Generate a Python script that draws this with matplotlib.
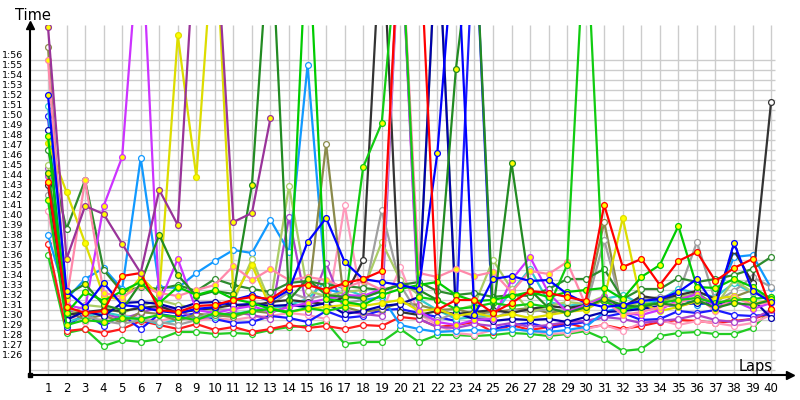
import matplotlib
matplotlib.use('Agg')
import matplotlib.pyplot as plt
import numpy as np

# lap times in seconds (90 = 1:30); 130 = off the top of the chart, None = retired
laps = list(range(1, 41))
OFF = 130

red_y = [103.3, 90.8, 90.2, 90.4, 93.9, 94.2, 90.5, 90.3, 90.9, 91.0, 91.5, 91.8, 91.6, 92.8, 93.0, 92.5, 93.2, 93.6, 94.4, OFF,
         OFF, 90.5, 91.5, 91.5, 90.2, 91.2, 92.4, 92.2, 91.8, 91.4, 101.0, 94.8, 95.6, 93.0, 95.4, 96.3, 93.4, 94.7, 95.6, 90.6]
red_o = [97.1, 88.4, 88.6, 88.2, 88.6, 89.4, 89.0, 88.6, 89.1, 88.5, 88.8, 88.3, 88.6, 89.0, 88.7, 88.9, 88.6, 89.0, 88.9, 89.8,
         89.6, 88.8, 89.0, 89.3, 88.3, 89.0, 88.5, 88.8, 89.2, 88.7, 89.0, 88.6, 88.9, 89.3, 89.5, 89.4, 89.2, 89.4, 89.6, 90.2]
green_low = [96.0, 88.2, 88.6, 86.9, 87.5, 87.3, 87.6, 88.3, 88.3, 88.1, 88.2, 88.1, 88.5, 88.8, 88.9, 89.3, 87.1, 87.3, 87.3, 88.6,
             87.3, 88.0, 88.0, 87.9, 88.0, 88.2, 88.1, 87.9, 88.1, 88.4, 87.6, 86.4, 86.6, 87.9, 88.2, 88.3, 88.1, 88.1, 88.7, 90.5]
green_a = [107.9, 90.2, 92.3, 91.4, 92.4, 93.3, 91.2, 92.8, 92.0, 92.5, 91.6, 91.2, 90.6, 90.2, OFF, 91.6, 91.3, 91.0, 92.0, 92.6,
           93.0, 93.3, 92.0, 91.4, 91.5, 91.9, 92.3, 91.8, 92.3, 92.5, 92.7, 91.6, 93.8, 95.0, 98.9, 92.8, 92.7, 93.6, 92.8, 91.6]
green_b = [101.5, 89.0, 89.5, 89.3, 89.7, 89.6, 90.0, 89.8, 89.5, 90.2, 90.0, 90.4, 90.6, 90.3, 90.7, 90.4, 90.8, 104.8, 109.2, OFF,
           91.8, 91.5, 90.6, 90.8, 91.2, 90.9, 91.1, 90.8, 95.0, OFF, 91.4, 90.5, 91.0, 91.2, 91.5, 91.7, 91.2, 91.5, 91.6, 91.8]
dkgreen_y = [104.2, 92.0, 93.1, 91.0, 90.5, 93.2, 98.0, 94.0, 91.9, 92.4, 92.1, 103.0, OFF, 91.5, 93.6, 92.0, 91.8, 91.7, 92.4, 93.0,
             92.5, 91.5, 114.6, OFF, 90.2, 105.2, 92.5, 90.7, 90.2, 90.8, 91.6, 91.0, 90.8, 91.2, 90.9, 91.5, 90.7, 91.2, 91.0, 91.5]
dkgreen_o = [106.5, 98.6, 103.5, 94.5, 92.3, 92.8, 92.6, 93.0, 92.4, 93.6, 93.0, 92.6, 92.3, 93.2, 93.4, 93.0, 92.9, 92.7, 92.5, 93.0,
             93.3, 92.4, 92.0, 92.2, 91.8, 92.0, 91.9, 92.6, 93.6, 93.6, 94.6, 91.6, 92.6, 92.6, 93.7, 93.3, 93.6, 94.0, 94.6, 95.8]
blue_y = [112.0, 92.4, 90.8, 93.2, 91.0, 90.8, 90.4, 90.2, 90.6, 90.8, 91.5, 92.0, 91.4, 92.5, 97.3, 99.7, 95.3, 93.6, 93.3, 93.0,
          92.6, 106.2, OFF, 90.0, 93.6, 93.9, 93.4, 93.5, 92.1, 91.2, 90.8, 91.0, 91.4, 91.6, 92.3, 93.6, 90.8, 97.2, 92.4, 91.3]
blue_o = [109.9, 88.8, 90.2, 88.9, 90.0, 88.6, 90.1, 89.8, 90.2, 89.6, 89.2, 89.3, 89.9, 89.7, 89.3, 90.4, 89.7, 89.9, 90.5, 90.6,
          90.2, 89.8, 89.4, OFF, 88.6, 89.0, 89.2, 88.7, 89.0, 89.3, 89.8, 90.2, 89.5, 89.6, 90.4, 90.2, 90.5, 90.0, 89.9, 90.1]
navy_o = [108.5, 89.5, 90.4, 89.9, 91.2, 91.3, 91.1, 90.6, 91.2, 91.3, 91.0, 91.1, 90.9, 91.0, 90.8, 91.2, 90.1, 90.4, 90.9, 91.1,
          91.8, OFF, 90.2, 89.6, 89.4, 89.6, 89.5, 89.6, 89.3, 89.8, 90.3, 90.4, 90.6, 90.9, 91.0, 91.2, 91.1, 91.5, 91.6, 89.7]
ltblue = [98.0, 91.6, 93.6, 94.7, 92.6, 105.7, 92.8, 92.7, 94.2, 95.4, 96.5, 96.2, 99.5, 96.3, 115.0, 92.6, 92.1, 91.5, 91.8, 89.0,
          88.6, 88.3, 88.4, 88.5, 88.4, 88.6, 88.4, 88.3, 88.5, 88.8, 90.3, 90.8, 90.6, 91.6, 91.8, 91.0, 91.4, 95.8, 96.0, 92.7]
cyan = [110.9, 89.3, 89.8, 90.3, 89.9, 89.6, 89.1, 89.5, 90.0, 89.8, 90.1, 90.4, 90.6, 91.0, 91.6, 93.4, 92.6, 91.9, 92.3, OFF,
        91.6, 90.5, 89.6, 89.8, 90.0, 92.4, 94.6, 91.3, 90.9, 91.2, 91.6, 92.0, 91.1, 91.5, 92.6, 92.2, 91.8, 93.2, 92.2, 91.8]
magenta = [103.9, 91.0, 90.6, 100.9, 105.8, OFF, 91.2, 95.6, 90.5, 90.2, 90.6, 90.9, 90.3, 90.8, 91.2, 91.6, 92.0, 91.9, 92.6, OFF,
           90.4, 89.3, 89.0, 89.5, 89.6, 93.5, 95.8, 92.2, 90.3, 91.0, 91.8, 90.2, 90.0, 90.5, 91.5, 92.1, 90.8, 91.4, 90.6, 91.2]
purple_y = [118.8, 95.6, 100.9, 100.1, 97.1, 94.2, 102.5, 99.0, OFF, OFF, 99.3, 100.2, 109.7] + [None] * 27
purple_o = [104.7, 90.5, 90.0, 90.2, 89.6, 90.2, 90.8, 90.5, 89.6, 89.9, 90.3, 90.0, 89.6, 99.8, 90.3, 95.2, 90.4, 90.1, 89.9, OFF,
            89.6, 88.8, 88.7, 89.1, 88.9, 89.2, 88.8, 89.0, 89.3, 89.4, 89.8, 89.6, 89.2, 89.4, 89.6, 90.0, 89.5, 89.3, 89.6, 90.5]
pink_y = [115.5, 91.5, 103.5, 92.2, 91.8, 92.9, 92.2, 91.9, 92.5, 93.0, 94.9, 93.5, 94.6, 93.5, 93.8, 93.5, 92.7, 93.4, 92.5, OFF,
          94.2, 93.8, 94.6, 93.9, 94.3, 92.3, 94.4, 94.1, 95.3, 91.0, 91.5, 90.0, 90.3, 90.8, 91.2, 91.8, 90.4, 91.8, 91.0, 91.3]
pink_o = [100.4, 90.0, 89.3, 89.6, 90.0, 89.7, 89.4, 89.8, 89.4, 89.7, 89.5, 89.8, 89.9, 90.2, 90.0, 89.6, 101.0, 90.6, 90.2, 94.8,
          90.1, 89.0, 88.2, 88.0, 88.5, 88.6, 88.4, 88.1, 88.2, 88.6, 89.0, 88.4, 89.2, 89.5, 89.0, 89.4, 89.2, 88.9, 89.2, 90.0]
yellow = [107.2, 102.3, 97.2, 91.9, 91.5, 93.8, 92.0, 118.0, 103.8, OFF, 91.8, 95.0, 90.7, 90.3, 90.6, 90.8, 91.0, 90.9, 91.2, 91.5,
          90.4, 90.6, 89.9, 90.2, 89.8, 90.1, 89.7, 90.0, 90.3, 90.5, 91.6, 99.7, 91.2, 90.4, 90.8, 91.4, 91.6, 91.9, 91.1, 91.5]
olive = [116.8, 90.3, 89.6, 90.0, 89.2, 90.3, 90.1, 89.4, 90.1, 90.0, 89.8, 90.4, 90.2, 90.9, 91.0, 107.1, 90.8, 90.3, 90.6, 91.2,
         91.0, 90.5, 90.6, 90.1, 90.3, 90.5, 90.7, 90.2, 90.5, 91.0, 99.3, 90.2, 91.8, 91.5, 91.6, 92.2, 91.0, 91.8, 92.5, 91.3]
grey = [102.0, 90.8, 89.9, 89.4, 89.1, 89.5, 89.3, 89.0, 89.5, 90.6, 90.5, 91.3, 91.0, 92.3, 91.6, 92.0, 91.2, 91.5, 100.5, 93.0,
        90.0, 89.5, 90.2, 89.8, 89.6, 90.5, 90.3, 90.6, 90.4, 90.6, 97.5, 90.5, 91.6, 91.8, 92.1, 97.3, 91.3, 92.4, 93.8, 92.8]
black = [103.0, 90.0, 90.3, 90.5, 90.4, 90.7, 90.9, 90.2, 90.5, 90.7, 91.0, 90.9, 91.3, 91.5, 91.3, 91.1, 91.8, 95.5, OFF, 90.3,
         90.0, 90.4, 90.1, 90.3, 90.5, 90.2, 90.6, 90.9, 90.7, 91.0, 91.4, 90.8, 91.9, 91.6, 92.0, 92.4, 91.6, 96.5, 93.2, 111.3]
ltgreen = [105.0, 89.8, 91.0, 90.8, 90.2, 90.9, 91.5, 91.0, 90.7, 90.5, 91.3, 95.6, 91.2, 102.9, 92.4, 91.9, 92.3, 92.5, 97.3, 93.5,
           92.0, OFF, 90.5, 91.0, 95.5, 92.6, 90.3, 90.9, 91.3, 91.1, 91.9, 90.7, 91.3, 91.0, 91.9, 92.0, 90.9, 93.5, 92.3, 91.6]

# (values, line colour, marker face)
series = [
    (green_low, '#22cc22', 'white'),
    (red_o, '#ff1a1a', 'white'),
    (pink_o, '#ff99bb', 'white'),
    (blue_o, '#1a1aff', 'white'),
    (purple_o, '#aa44cc', 'white'),
    (cyan, '#33cccc', 'white'),
    (ltblue, '#1199ff', 'white'),
    (olive, '#8a8a4a', 'white'),
    (grey, '#a0a0a0', 'white'),
    (ltgreen, '#aacc66', 'white'),
    (black, '#333333', 'white'),
    (navy_o, '#0000aa', 'white'),
    (dkgreen_o, '#2e8b2e', 'white'),
    (yellow, '#dddd00', 'yellow'),
    (magenta, '#cc33ff', 'yellow'),
    (pink_y, '#ff88aa', 'yellow'),
    (green_b, '#11cc11', 'yellow'),
    (dkgreen_y, '#228b22', 'yellow'),
    (green_a, '#00cc00', 'yellow'),
    (blue_y, '#0000ff', 'yellow'),
    (red_y, '#ff0000', 'yellow'),
    (purple_y, '#993399', 'yellow'),
]

ytick_vals = list(range(86, 117))
ytick_labels = ['%d:%02d' % (v // 60, v % 60) for v in ytick_vals]

fig = plt.figure(figsize=(8, 4), dpi=100)
ax = fig.add_axes([30 / 800, 25 / 400, 760 / 800, 350 / 400])
ax.set_xlim(0.029, 41.02)
ax.set_ylim(84, 119)

# grid
ax.hlines(np.arange(84.5, 116, 1), 0.029, 40.21, color='#cccccc', lw=1, zorder=0)
ax.vlines(laps, 84, 119, color='#cccccc', lw=1, zorder=0)

for vals, col, face in series:
    y = np.array([np.nan if v is None else v for v in vals], dtype=float)
    ax.plot(laps, y, color=col, lw=1.6, marker='o', ms=4.2, mfc=face, mec=col, mew=0.9, zorder=2)

ax.set_xticks(laps)
ax.set_xticklabels([str(l) for l in laps], fontsize=8.5)
ax.set_yticks(ytick_vals)
ax.set_yticklabels(ytick_labels, fontsize=6.8)
ax.tick_params(axis='both', length=0)
ax.tick_params(axis='x', pad=5)
ax.tick_params(axis='y', pad=5)

for s in ['top', 'right']:
    ax.spines[s].set_visible(False)
for s in ['left', 'bottom']:
    ax.spines[s].set_linewidth(1.5)
    ax.spines[s].set_zorder(5)

# axis arrows and origin square
ax.plot([0], [1.0], marker='^', ms=6, color='black', transform=ax.transAxes, clip_on=False, zorder=6)
ax.plot([1.0], [0], marker='>', ms=6, color='black', transform=ax.transAxes, clip_on=False, zorder=6)
ax.plot([0], [0], marker='s', ms=3.5, color='black', transform=ax.transAxes, clip_on=False, zorder=6)

fig.text(15 / 800, 1 - 15 / 400, 'Time', fontsize=10.5, ha='left', va='center')
fig.text(773 / 800, 1 - 366 / 400, 'Laps', fontsize=10.5, ha='right', va='center')

fig.savefig('out.png', dpi=100)
